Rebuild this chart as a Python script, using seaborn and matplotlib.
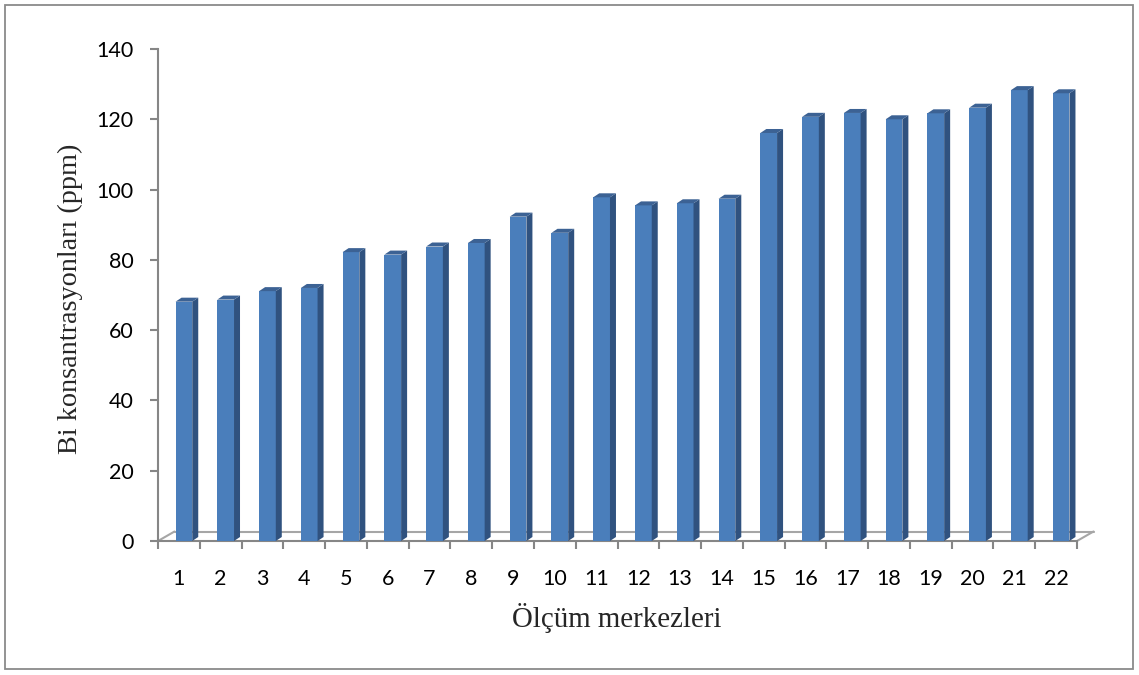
import matplotlib
matplotlib.use("Agg")
import matplotlib.pyplot as plt
import seaborn as sns
import pandas as pd
from matplotlib.patches import Polygon, Rectangle
from matplotlib.lines import Line2D

# Bi concentration per measurement station
stations = [str(i) for i in range(1, 23)]
bi_ppm = [68.1, 68.7, 71.1, 72.0, 82.2, 81.5, 83.8, 84.8, 92.3, 87.7, 97.8,
          95.5, 96.1, 97.4, 116.1, 120.7, 121.8, 120.0, 121.7, 123.3, 128.3, 127.4]
y_ticks = [0, 20, 40, 60, 80, 100, 120, 140]

FRONT = "#4A7EBB"
SIDE = "#30527F"
TOP = "#3C6294"
AXIS_GRAY = "#868686"
FLOOR_GRAY = "#A6A6A6"

sns.set_theme(style="white")
plt.rcParams["font.family"] = ["Lato", "DejaVu Sans"]

W, H = 1139, 675
fig = plt.figure(figsize=(W / 100, H / 100), dpi=100)
ax = fig.add_axes([158 / W, 1 - 541 / H, (1077 - 158) / W, (541 - 49) / H])

df = pd.DataFrame({"station": stations, "bi": bi_ppm})
sns.barplot(data=df, x="station", y="bi", order=stations, color=FRONT,
            saturation=1, width=0.4, linewidth=0, ax=ax, zorder=3)

ax.set_xlim(-0.5, len(stations) - 0.5)
ax.set_ylim(0, 140)

# pixel -> data conversion for the pseudo-3D depth
px_x = (1077 - 158) / len(stations)
px_y = (541 - 49) / 140.0
shift = 5 / px_x
ddx, ddy = 6 / px_x, 4 / px_y

for p in ax.patches:
    p.set_x(p.get_x() + shift)
    x0, w, h = p.get_x(), p.get_width(), p.get_height()
    x1 = x0 + w
    side = Polygon([(x1, 0), (x1 + ddx, ddy), (x1 + ddx, h + ddy), (x1, h)],
                   closed=True, facecolor=SIDE, edgecolor="none", zorder=3)
    top = Polygon([(x0, h), (x1, h), (x1 + ddx, h + ddy), (x0 + ddx, h + ddy)],
                  closed=True, facecolor=TOP, edgecolor="none", zorder=3)
    ax.add_patch(side)
    ax.add_patch(top)

# floor of the 3D plot area
fdx, fdy = 16.5 / px_x, 9.5 / px_y
xl, xr = -0.5, len(stations) - 0.5
for xs, ys in [((xl + fdx, xr + fdx), (fdy, fdy)),
               ((xl, xl + fdx), (0, fdy)),
               ((xr, xr + fdx), (0, fdy))]:
    ax.add_line(Line2D(xs, ys, color=FLOOR_GRAY, lw=1.5, zorder=1, clip_on=False))

for s in ["top", "right"]:
    ax.spines[s].set_visible(False)
for s in ["left", "bottom"]:
    ax.spines[s].set_color(AXIS_GRAY)
    ax.spines[s].set_linewidth(1.5)
    ax.spines[s].set_zorder(2)

ax.set_yticks(y_ticks)
ax.set_yticklabels([str(v) for v in y_ticks])
ax.set_xticks(range(len(stations)))
ax.set_xticklabels(stations)
ax.set_xticks([i - 0.5 for i in range(len(stations) + 1)], minor=True)
ax.tick_params(axis="y", which="major", direction="out", length=5.8, width=1.5,
               color=AXIS_GRAY, left=True, pad=12, labelsize=15.5, labelcolor="black")
ax.tick_params(axis="x", which="major", length=0, pad=20, labelsize=15.5,
               labelcolor="black")
ax.tick_params(axis="x", which="minor", direction="out", length=5.8, width=1.5,
               color=AXIS_GRAY, bottom=True)

ax.set_xlabel("")
ax.set_ylabel("")
fig.text(617 / W, 1 - 627 / H, "Ölçüm merkezleri", ha="center", va="baseline",
         fontsize=20.8, family=["Liberation Serif", "DejaVu Serif"])
fig.text(70 / W, 1 - 299 / H, "Bi konsantrasyonları (ppm)", ha="center",
         va="center", rotation=90, fontsize=20.3,
         family=["Liberation Serif", "DejaVu Serif"])

# chart frame
fig.patches.append(Rectangle((5 / W, 6 / H), 1128 / W, 664 / H,
                             transform=fig.transFigure, fill=False,
                             edgecolor="#8A8A8A", lw=1.3))

fig.savefig("out.png", dpi=100)
